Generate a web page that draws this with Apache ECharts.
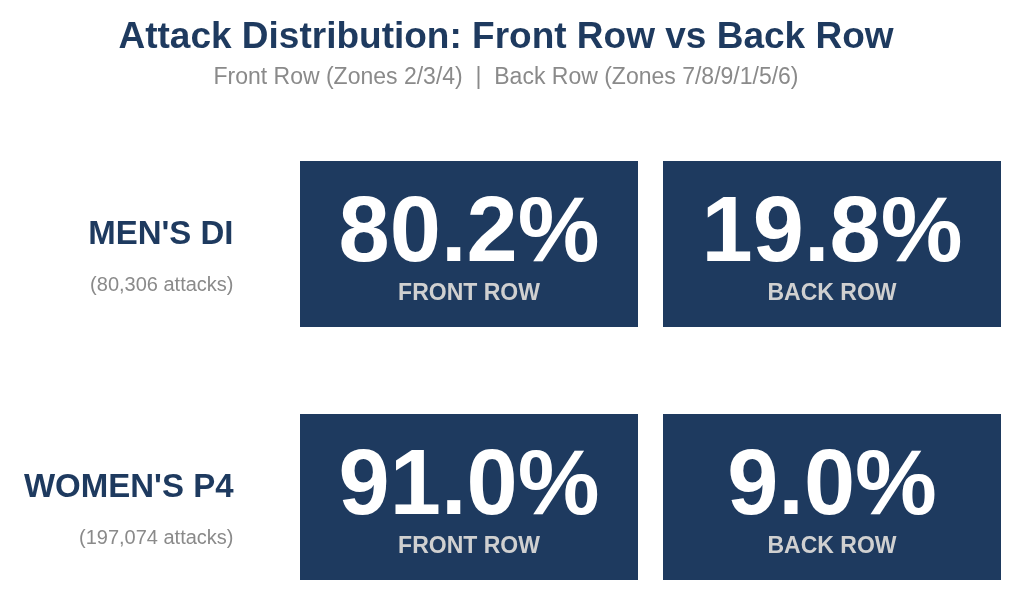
<!DOCTYPE html>
<html>
<head>
<meta charset="utf-8">
<script src="https://cdn.jsdelivr.net/npm/echarts@6/dist/echarts.min.js"></script>
<style>
  html, body { margin: 0; padding: 0; background: #fff; }
  #main { width: 1024px; height: 603px; }
</style>
</head>
<body>
<div id="main"></div>
<script>
// 数据
const groups = ["MEN'S DI", "WOMEN'S P4"];
const attacks = [80306, 197074];
const zones = ["FRONT ROW", "BACK ROW"];
const frontPct = [80.2, 91.0];
const backPct = [19.8, 9.0];

const navy = "#1e3a5f";
const font = '"Liberation Sans", Arial, sans-serif';

// [列, 行, 百分比]
let cells = [];
groups.forEach(function (g, i) {
  cells.push([0, i, frontPct[i]]);
  cells.push([1, i, backPct[i]]);
});

function renderItem(params, api) {
  let c = api.coord([api.value(0), api.value(1)]);
  let s = api.size([1, 1]);
  let w = s[0] - 25; //列间距
  let h = s[1] - 87; //行间距
  return {
    type: "group",
    children: [
      {
        type: "rect",
        shape: { x: c[0] - w / 2, y: c[1] - h / 2, width: w, height: h },
        style: { fill: navy },
      },
      {
        type: "text",
        x: c[0],
        y: c[1] - 8,
        style: {
          text: api.value(2).toFixed(1) + "%",
          fontFamily: font,
          fontWeight: "bold",
          fontSize: 92,
          fill: "#fff",
          align: "center",
          verticalAlign: "middle",
        },
      },
      {
        type: "text",
        x: c[0],
        y: c[1] + 50,
        style: {
          text: zones[api.value(0)],
          fontFamily: font,
          fontWeight: "bold",
          fontSize: 23,
          fill: "#d0d0d0",
          align: "center",
          verticalAlign: "middle",
        },
      },
    ],
  };
}

let myChart = echarts.init(document.getElementById("main"));
let option = {
  animation: false,
  title: {
    text: "Attack Distribution: Front Row vs Back Row",
    subtext: "Front Row (Zones 2/3/4)  |  Back Row (Zones 7/8/9/1/5/6)",
    left: 501,
    textAlign: "center",
    top: 14,
    itemGap: 10,
    textStyle: {
      color: navy,
      fontFamily: font,
      fontWeight: "bold",
      fontSize: 37,
    },
    subtextStyle: {
      color: "#8a8a8a",
      fontFamily: font,
      fontSize: 23,
    },
  },
  grid: {
    left: 287.5,
    top: 117.5,
    width: 726,
    height: 506,
    outerBoundsMode: "none",
  },
  xAxis: {
    type: "category",
    data: zones,
    show: false,
  },
  yAxis: {
    type: "category",
    data: groups,
    inverse: true,
    axisLine: { show: false },
    axisTick: { show: false },
    splitLine: { show: false },
    axisLabel: {
      margin: 54,
      align: "right",
      formatter: function (v, i) {
        return "{name|" + v + "}\n{count|(" + attacks[i].toLocaleString("en-US") + " attacks)}";
      },
      rich: {
        name: {
          fontFamily: font,
          fontWeight: "bold",
          fontSize: 33,
          color: navy,
          lineHeight: 83,
          align: "right",
        },
        count: {
          fontFamily: font,
          fontSize: 20,
          color: "#8a8a8a",
          lineHeight: 19,
          align: "right",
        },
      },
    },
  },
  series: [
    {
      type: "custom",
      renderItem: renderItem,
      encode: { x: 0, y: 1 },
      data: cells,
    },
  ],
};
myChart.setOption(option);
</script>
</body>
</html>
